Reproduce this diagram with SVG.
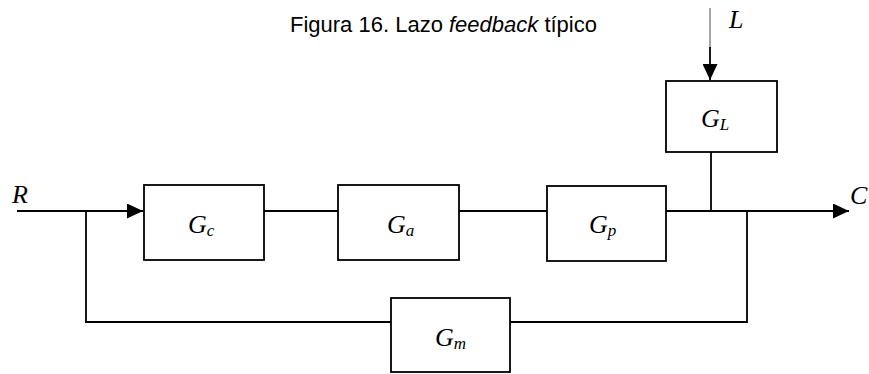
<svg xmlns="http://www.w3.org/2000/svg" width="869" height="374" viewBox="0 0 869 374">
  <style>
    .box { fill: #ffffff; stroke: #000000; stroke-width: 1.8; }
    .wire { fill: none; stroke: #000000; stroke-width: 1.8; }
    .thin { fill: none; stroke: #000000; stroke-width: 0.7; }
    .sym { font-family: "Liberation Serif", "Times New Roman", serif; font-style: italic; font-size: 26px; fill: #000000; }
    .sub { font-size: 17px; }
    .title { font-family: "Liberation Sans", Arial, sans-serif; font-size: 22px; fill: #000000; }
  </style>
  <defs>
    <marker id="arrow" viewBox="0 0 16 15" refX="16" refY="7.5" markerWidth="16" markerHeight="15" markerUnits="userSpaceOnUse" orient="auto">
      <path d="M0,0 L16,7.5 L0,15 Z" fill="#000000"/>
    </marker>
  </defs>

  <text class="title" x="290" y="32">Figura 16. Lazo <tspan font-style="italic">feedback</tspan> típico</text>

  <!-- signal labels -->
  <text class="sym" x="12" y="203">R</text>
  <text class="sym" x="850" y="204">C</text>
  <text class="sym" x="729" y="28">L</text>

  <g id="connectors">
    <!-- input R into Gc -->
    <line class="wire" x1="17" y1="211" x2="143" y2="211" marker-end="url(#arrow)"/>
    <!-- forward path -->
    <line class="wire" x1="264" y1="211" x2="338" y2="211"/>
    <line class="wire" x1="459" y1="211" x2="547" y2="211"/>
    <line class="wire" x1="666" y1="211" x2="849" y2="211" marker-end="url(#arrow)"/>
    <!-- disturbance L into GL -->
    <line class="thin" x1="710" y1="8" x2="710" y2="48"/>
    <line class="wire" x1="710" y1="47" x2="710" y2="80" marker-end="url(#arrow)"/>
    <!-- GL output to summing point -->
    <line class="wire" x1="711" y1="152" x2="711" y2="211"/>
    <!-- feedback through Gm -->
    <polyline class="wire" points="747,211 747,322 510,322"/>
    <polyline class="wire" points="391,322 86,322 86,211"/>
  </g>

  <g id="Gc">
    <rect class="box" x="144" y="185" width="120" height="75"/>
    <text class="sym" x="188" y="233">G<tspan class="sub" dy="3">c</tspan></text>
  </g>
  <g id="Ga">
    <rect class="box" x="338" y="185" width="121" height="75"/>
    <text class="sym" x="387" y="233">G<tspan class="sub" dy="3">a</tspan></text>
  </g>
  <g id="Gp">
    <rect class="box" x="547" y="186" width="119" height="75"/>
    <text class="sym" x="589" y="233">G<tspan class="sub" dy="3">p</tspan></text>
  </g>
  <g id="GL">
    <rect class="box" x="666" y="81" width="111" height="71"/>
    <text class="sym" x="701" y="127">G<tspan class="sub" dy="3">L</tspan></text>
  </g>
  <g id="Gm">
    <rect class="box" x="391" y="298" width="119" height="74"/>
    <text class="sym" x="435" y="346">G<tspan class="sub" dy="3">m</tspan></text>
  </g>
</svg>
